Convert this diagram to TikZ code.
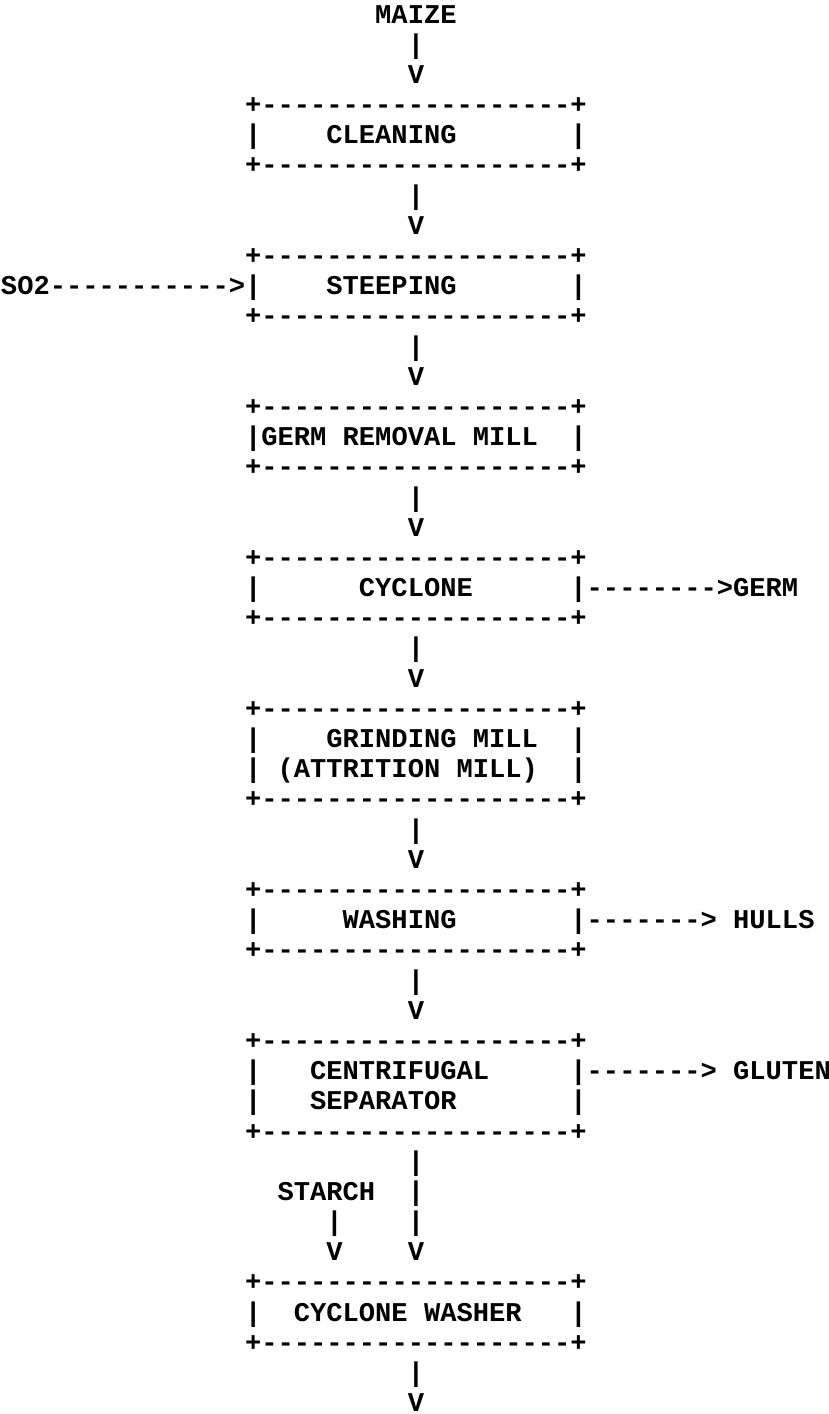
\documentclass[tikz,border=0pt]{standalone}
\usepackage{fontspec}
\newfontfamily\asciifont{Liberation Mono}[WordSpace={1,0,0}]
\def\cw{16.27}
\def\basey{23}
\def\lh{30.19}
\tikzset{
  txt/.style={anchor=base west, inner sep=0pt, outer sep=0pt,
    font=\asciifont\bfseries\fontsize{13.56pt}{15pt}\selectfont}
}
\newcommand\asc[4]{\node[txt] (#3) at ({#1*\cw+1},{\basey+(#2-1)*\lh}) {#4};}
\newcommand\boxedge[2]{\asc{15}{#1}{#2}{+-------------------+}}
\begin{document}
\begin{tikzpicture}[x=0.5pt,y=-0.5pt]
\fill[white] (0,0) rectangle (829,1414);
\useasboundingbox (0,0) rectangle (829,1414);
% input
\asc{23}{1}{maize}{MAIZE}
\asc{25}{2}{a1}{|}
\asc{25}{3}{v1}{V}
% cleaning
\boxedge{4}{cleantop}
\asc{15}{5}{cleanl}{|}
\asc{20}{5}{clean}{CLEANING}
\asc{35}{5}{cleanr}{|}
\boxedge{6}{cleanbot}
\asc{25}{7}{a2}{|}
\asc{25}{8}{v2}{V}
% steeping
\boxedge{9}{steeptop}
\asc{0}{10}{so2}{SO2----------->}
\asc{15}{10}{steepl}{|}
\asc{20}{10}{steep}{STEEPING}
\asc{35}{10}{steepr}{|}
\boxedge{11}{steepbot}
\asc{25}{12}{a3}{|}
\asc{25}{13}{v3}{V}
% germ removal mill
\boxedge{14}{germtop}
\asc{15}{15}{germmill}{|GERM REMOVAL MILL}
\asc{35}{15}{germr}{|}
\boxedge{16}{germbot}
\asc{25}{17}{a4}{|}
\asc{25}{18}{v4}{V}
% cyclone
\boxedge{19}{cyctop}
\asc{15}{20}{cycl}{|}
\asc{22}{20}{cyc}{CYCLONE}
\asc{35}{20}{germout}{|-------->GERM}
\boxedge{21}{cycbot}
\asc{25}{22}{a5}{|}
\asc{25}{23}{v5}{V}
% grinding mill
\boxedge{24}{grindtop}
\asc{15}{25}{grindl1}{|}
\asc{20}{25}{grind}{GRINDING MILL}
\asc{35}{25}{grindr1}{|}
\asc{15}{26}{grindl2}{|}
\asc{17}{26}{attr}{(ATTRITION MILL)}
\asc{35}{26}{grindr2}{|}
\boxedge{27}{grindbot}
\asc{25}{28}{a6}{|}
\asc{25}{29}{v6}{V}
% washing
\boxedge{30}{washtop}
\asc{15}{31}{washl}{|}
\asc{21}{31}{wash}{WASHING}
\asc{35}{31}{hulls}{|-------> HULLS}
\boxedge{32}{washbot}
\asc{25}{33}{a7}{|}
\asc{25}{34}{v7}{V}
% centrifugal separator
\boxedge{35}{centtop}
\asc{15}{36}{centl1}{|}
\asc{19}{36}{cent}{CENTRIFUGAL}
\asc{35}{36}{gluten}{|-------> GLUTEN}
\asc{15}{37}{centl2}{|}
\asc{19}{37}{sep}{SEPARATOR}
\asc{35}{37}{centr2}{|}
\boxedge{38}{centbot}
\asc{25}{39}{a8}{|}
\asc{17}{40}{starch}{STARCH}
\asc{25}{40}{a9}{|}
\asc{20}{41}{s1}{|}
\asc{25}{41}{a10}{|}
\asc{20}{42}{sv}{V}
\asc{25}{42}{v8}{V}
% cyclone washer
\boxedge{43}{cwtop}
\asc{15}{44}{cwl}{|}
\asc{18}{44}{cw}{CYCLONE WASHER}
\asc{35}{44}{cwr}{|}
\boxedge{45}{cwbot}
\asc{25}{46}{a11}{|}
\asc{25}{47}{v9}{V}
\end{tikzpicture}
\end{document}
